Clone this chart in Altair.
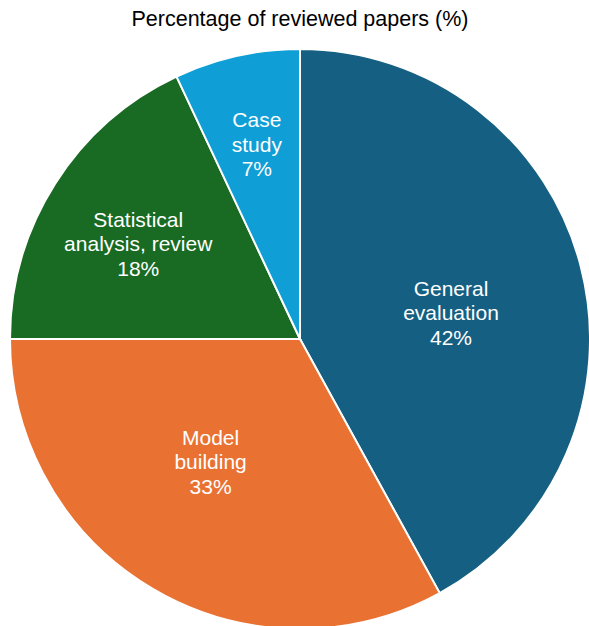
import altair as alt
import pandas as pd

categories = ["General evaluation", "Model building", "Statistical analysis, review", "Case study"]
label_lines = ["General\nevaluation", "Model\nbuilding", "Statistical\nanalysis, review", "Case\nstudy"]
shares = [42, 33, 18, 7]
colors = ["#156082", "#E97132", "#196B24", "#0F9ED5"]

df = pd.DataFrame({
    "category": categories,
    "label": [f"{l}\n{s}%" for l, s in zip(label_lines, shares)],
    "share": shares,
    "idx": list(range(len(categories))),
})

cx, cy, R = 300, 299, 290
line_h = 24.5

pie = alt.Chart(df).mark_arc(outerRadius=R, stroke="white", strokeWidth=2).encode(
    theta=alt.Theta("share:Q", stack=True),
    order=alt.Order("idx:Q"),
    color=alt.Color("category:N", scale=alt.Scale(domain=categories, range=colors), legend=None),
    x=alt.value(cx),
    y=alt.value(cy),
)

labels = alt.Chart(df).transform_joinaggregate(
    total="sum(share)"
).transform_window(
    cum="sum(share)", sort=[alt.SortField("idx")], frame=[None, 0]
).transform_calculate(
    mid="(datum.cum - datum.share / 2) / datum.total * 2 * PI"
        " + (datum.share >= 30 ? 0.09 : datum.share >= 10 ? -0.04 : 0)",
    lr="datum.share >= 30 ? 153 : datum.share >= 10 ? 187 : 198",
).mark_text(
    font="Liberation Sans", fontSize=21, color="white", align="center",
    baseline="middle", lineBreak="\n", lineHeight=line_h, dy=-line_h
).encode(
    theta=alt.Theta("mid:Q", scale=None),
    radius=alt.Radius("lr:Q", scale=None),
    text="label:N",
    x=alt.value(cx),
    y=alt.value(cy),
)

chart = alt.layer(pie, labels).resolve_scale(theta="independent").properties(
    width=589, height=586,
    autosize=alt.AutoSizeParams(type="none"),
    padding={"left": 0, "right": 0, "top": 40, "bottom": 0},
    title=alt.Title("Percentage of reviewed papers (%)", font="Liberation Sans", fontSize=21.5,
                    fontWeight="normal", color="black", anchor="middle", baseline="alphabetic",
                    offset=13, dx=5.5, dy=20),
).configure_view(stroke=None)

chart.save("out.html", embed_options={"renderer": "svg", "actions": False})
